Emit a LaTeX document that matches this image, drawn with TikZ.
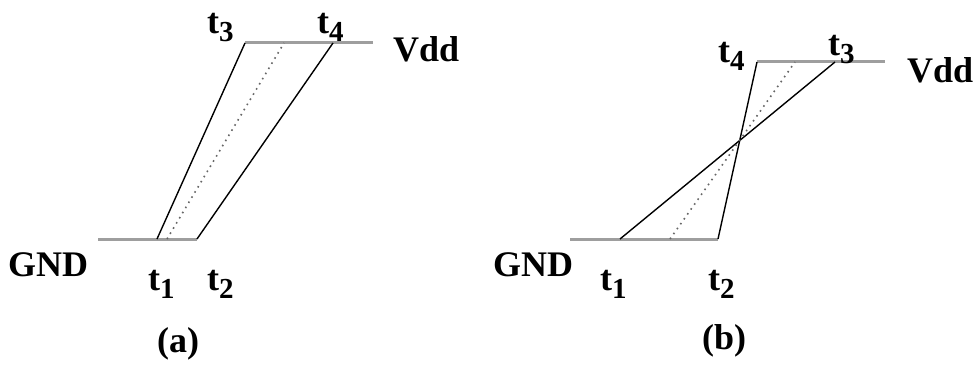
\documentclass[tikz,border=0pt]{standalone}
\usepackage{fontspec}
\setmainfont{Liberation Serif}
\newcommand\tlab[1]{t\raisebox{-8pt}{\fontsize{29}{29}\selectfont #1}}
\tikzset{
  lbl/.style={inner sep=0pt, anchor=base west, font=\fontsize{36}{36}\selectfont\bfseries},
  rail/.style={draw=black!38, line width=3pt},
  edge/.style={draw=black, line width=1.4pt},
  mid/.style={draw=black!60, line width=1.6pt, dash pattern=on 1.6pt off 4.4pt},
}
\begin{document}
\begin{tikzpicture}[x=1pt,y=-1pt]
\useasboundingbox (0,0) rectangle (977,369);
% ---------- (a) ----------
\coordinate (aG0) at (98,239);
\coordinate (aT1) at (157,239);
\coordinate (aD1) at (167,239);
\coordinate (aT2) at (197,239);
\coordinate (aT3) at (245,43);
\coordinate (aD2) at (284,43);
\coordinate (aT4) at (333,43);
\coordinate (aV1) at (373,43);
\draw[rail] (aG0) -- (aT2);
\draw[rail] (aT3) -- (aV1);
\draw[edge] (aT1) -- (aT3);
\draw[edge] (aT2) -- (aT4);
\draw[mid] (aD1) -- (aD2);
\node[lbl] (aGND) at (8,276) {GND};
\node[lbl] (aVdd) at (393,62) {Vdd};
\node[lbl] (at1) at (148,290) {\tlab{1}};
\node[lbl] (at2) at (207,290) {\tlab{2}};
\node[lbl] (at3) at (207,34) {\tlab{3}};
\node[lbl] (at4) at (317,34) {\tlab{4}};
\node[lbl] (acap) at (157,352) {(a)};
% ---------- (b) ----------
\coordinate (bG0) at (570,239);
\coordinate (bT1) at (620,239);
\coordinate (bD1) at (670,239);
\coordinate (bT2) at (718,239);
\coordinate (bT4) at (757,62);
\coordinate (bD2) at (795,62);
\coordinate (bT3) at (835,62);
\coordinate (bV1) at (885,62);
\draw[rail] (bG0) -- (bT2);
\draw[rail] (bT4) -- (bV1);
\draw[edge] (bT1) -- (bT3);
\draw[edge] (bT2) -- (bT4);
\draw[mid] (bD1) -- (bD2);
\node[lbl] (bGND) at (493,276) {GND};
\node[lbl] (bVdd) at (907,82) {Vdd};
\node[lbl] (bt1) at (600,290) {\tlab{1}};
\node[lbl] (bt2) at (708,290) {\tlab{2}};
\node[lbl] (bt4) at (718,63) {\tlab{4}};
\node[lbl] (bt3) at (828,56) {\tlab{3}};
\node[lbl] (bcap) at (702,349) {(b)};
\end{tikzpicture}
\end{document}
